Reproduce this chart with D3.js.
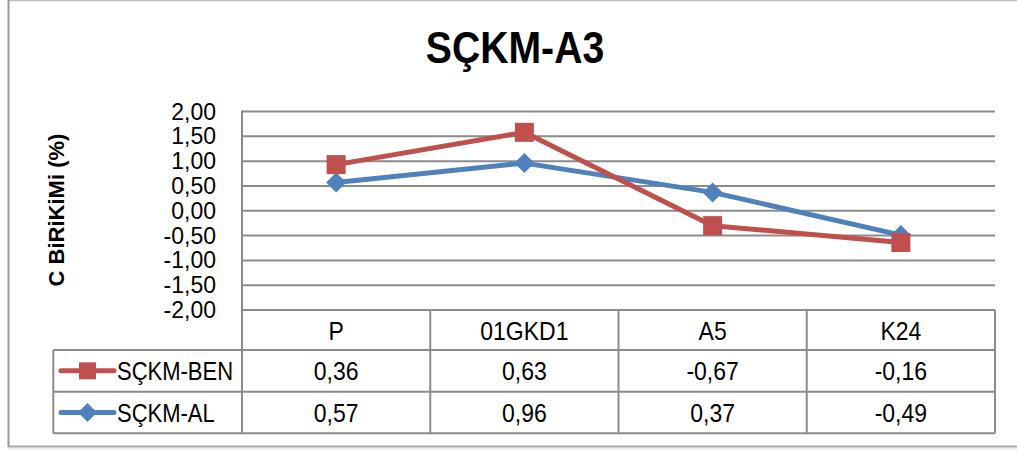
<!DOCTYPE html>
<html><head><meta charset="utf-8">
<script src="https://cdn.jsdelivr.net/npm/d3@7"></script>
<style>html,body{margin:0;padding:0;background:#fff;}svg{display:block;}</style>
</head><body>
<script>
const title = "SÇKM-A3";
const yTitle = "C BiRiKiMi (%)";
const categories = ["P", "01GKD1", "A5", "K24"];
const seriesNames = ["SÇKM-BEN", "SÇKM-AL"];
// plotted values
const benValues = [0.93, 1.58, -0.30, -0.64];
const alValues = [0.57, 0.96, 0.37, -0.49];
// values printed in the data table
const benTable = ["0,36", "0,63", "-0,67", "-0,16"];
const alTable = ["0,57", "0,96", "0,37", "-0,49"];
const yTicks = [2, 1.5, 1, 0.5, 0, -0.5, -1, -1.5, -2];
const colors = ["#C0504D", "#4F81BD"];

const W = 1017, H = 450;
const svg = d3.select("body").append("svg").attr("width", W).attr("height", H);
const FONT = "'Liberation Sans', Arial, sans-serif";

function txt(parent, x, y, s, size, anchor, weight, sx, rot) {
  const g = parent.append("g").attr("transform",
    `translate(${x},${y})` + (rot ? ` rotate(${rot})` : "") + ` scale(${sx},1)`);
  g.append("text").attr("x", 0).attr("y", 0).attr("text-anchor", anchor)
    .attr("font-family", FONT).attr("font-size", size).attr("font-weight", weight)
    .attr("fill", "#000").text(s);
  return g;
}

// outer frame
svg.append("line").attr("x1", 8).attr("x2", W).attr("y1", 0.5).attr("y2", 0.5).attr("stroke", "#c0c0c0").attr("stroke-width", 1.5);
svg.append("line").attr("x1", 8.5).attr("x2", 8.5).attr("y1", 0).attr("y2", 447).attr("stroke", "#9a9a9a").attr("stroke-width", 2);
svg.append("line").attr("x1", 8).attr("x2", W).attr("y1", 446.5).attr("y2", 446.5).attr("stroke", "#a8a8a8").attr("stroke-width", 2);
svg.append("rect").attr("x", 8).attr("y", 448).attr("width", W).attr("height", 2).attr("fill", "#ececec");

const pLeft = 242, pRight = 995, pTop = 111.5, pBottom = 310;
const x = d3.scaleBand().domain(categories).range([pLeft, pRight]).padding(0);
const y = d3.scaleLinear().domain([-2, 2]).range([pBottom, pTop]);

// title
txt(svg, 515, 63, title, 44, "middle", "bold", 0.89);

// gridlines
svg.append("g").selectAll("line").data(yTicks).join("line")
  .attr("x1", pLeft).attr("x2", pRight)
  .attr("y1", d => y(d)).attr("y2", d => y(d))
  .attr("stroke", "#8c8c8c").attr("stroke-width", 2);
// y-axis line
svg.append("line").attr("x1", pLeft).attr("x2", pLeft).attr("y1", pTop - 1).attr("y2", pBottom)
  .attr("stroke", "#8c8c8c").attr("stroke-width", 2);

// y tick labels
const fmt = d => d3.format(".2f")(d).replace(".", ",").replace("−", "-");
yTicks.forEach(t => txt(svg, 216, y(t) + 8, fmt(t), 23, "end", "normal", 1));

// y title
txt(svg, 64, 210, yTitle, 22, "middle", "bold", 1, -90);

// table
const rowTops = [310, 350, 391.7, 433.3];
const legLeft = 53.3;
const tg = svg.append("g").attr("stroke", "#8c8c8c").attr("stroke-width", 2);
tg.append("line").attr("x1", pLeft).attr("x2", pRight).attr("y1", rowTops[0]).attr("y2", rowTops[0]);
for (let i = 1; i < 4; i++) tg.append("line").attr("x1", legLeft).attr("x2", pRight).attr("y1", rowTops[i]).attr("y2", rowTops[i]);
tg.append("line").attr("x1", legLeft).attr("x2", legLeft).attr("y1", rowTops[1]).attr("y2", rowTops[3]);
const bounds = [pLeft].concat(categories.map(c => x(c) + x.bandwidth()));
bounds.forEach(b => tg.append("line").attr("x1", b).attr("x2", b).attr("y1", rowTops[0]).attr("y2", rowTops[3]));

categories.forEach((c, i) => {
  const cx = x(c) + x.bandwidth() / 2;
  txt(svg, cx, 340, c, 25, "middle", "normal", 0.92);
  txt(svg, cx, 380, benTable[i], 25, "middle", "normal", 0.92);
  txt(svg, cx, 421.5, alTable[i], 25, "middle", "normal", 0.92);
});

function marker(g, type, cx, cy, s, color) {
  if (type === "square") {
    g.append("rect").attr("x", cx - s / 2).attr("y", cy - s / 2).attr("width", s).attr("height", s).attr("fill", color);
  } else {
    const h = s / 2;
    g.append("path").attr("d", `M${cx},${cy - h}L${cx + h},${cy}L${cx},${cy + h}L${cx - h},${cy}Z`).attr("fill", color);
  }
}
const legRowsY = [(rowTops[1] + rowTops[2]) / 2, (rowTops[2] + rowTops[3]) / 2];
const types = ["square", "diamond"];
seriesNames.forEach((n, i) => {
  const lg = svg.append("g");
  lg.append("line").attr("x1", 61).attr("x2", 114).attr("y1", legRowsY[i]).attr("y2", legRowsY[i])
    .attr("stroke", colors[i]).attr("stroke-width", 5).attr("stroke-linecap", "round");
  marker(lg, types[i], 87.5, legRowsY[i], i === 0 ? 17 : 19, colors[i]);
  txt(svg, 117, legRowsY[i] + 9.5, n, 25, "start", "normal", 0.88);
});

// series lines
const series = [benValues, alValues];
const line = d3.line().x((d, i) => x(categories[i]) + x.bandwidth() / 2).y(d => y(d));
[1, 0].forEach(si => {
  const g = svg.append("g");
  g.append("path").attr("d", line(series[si])).attr("fill", "none")
    .attr("stroke", colors[si]).attr("stroke-width", 5).attr("stroke-linejoin", "round");
  series[si].forEach((v, i) => marker(g, types[si], x(categories[i]) + x.bandwidth() / 2, y(v), si === 0 ? 19 : 20, colors[si]));
});
</script>
</body></html>
